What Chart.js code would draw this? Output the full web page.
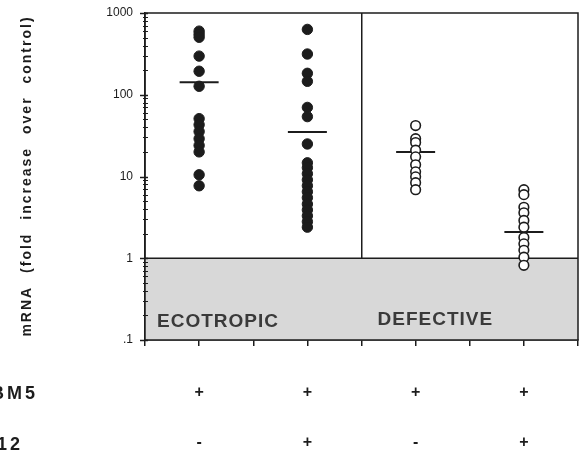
<!DOCTYPE html>
<html lang="en">
<head>
    <meta charset="UTF-8">
    <title>mRNA fold increase</title>
    <script src="https://cdn.jsdelivr.net/npm/chart.js"></script>
    <style>
        body { margin: 0; background: #fff; }
    </style>
</head>
<body>
    <canvas id="chart" width="580" height="457"></canvas>

    <script>
        // group positions on the x axis (ecotropic -, ecotropic +, defective -, defective +)
        const groupX = [1, 3, 5, 7];
        const bm5Row = ['+', '+', '+', '+'];
        const row12 = ['-', '+', '-', '+'];
        const panelNames = ['ECOTROPIC', 'DEFECTIVE'];

        // fold increase values
        const ecoMinus = [600, 550, 505, 297, 194, 127, 51, 43, 35.5, 29, 24, 20, 10.5, 7.7];
        const ecoPlus = [630, 315, 183, 146, 70, 54, 25, 14.7, 12.8, 10.8, 9.1, 7.7, 6.5, 5.5, 4.6, 3.9, 3.3, 2.8, 2.4];
        const defMinus = [42, 29, 26, 21, 17.4, 13.9, 11.4, 9.9, 8.4, 6.9];
        const defPlus = [6.9, 6.0, 4.2, 3.6, 2.9, 2.4, 1.8, 1.5, 1.25, 1.03, 0.82];
        const means = [142, 35, 20, 2.1];

        const yTitle = 'mRNA (fold increase over control)';
        const rowNames = ['BM5', '12'];

        const ink = '#1c1c1c';
        const font = '"Liberation Sans", Arial, sans-serif';

        function toPoints(x, values) {
            return values.map(v => ({ x: x, y: v }));
        }

        const yTicks = [];
        [0.1, 1, 10, 100].forEach(d => {
            for (let i = 1; i < 10; i++) yTicks.push(+(d * i).toPrecision(3));
        });
        yTicks.push(1000);
        const yLabels = { 0.1: '.1', 1: '1', 10: '10', 100: '100', 1000: '1000' };

        // grey band under 1, the frame round the plot and the extra texts
        const framePlugin = {
            id: 'frame',
            beforeDatasetsDraw(chart) {
                const { ctx, chartArea, scales } = chart;
                const y1 = scales.y.getPixelForValue(1);
                const y0 = scales.y.getPixelForValue(0.1);
                ctx.save();
                ctx.fillStyle = '#d8d8d8';
                ctx.fillRect(chartArea.left, y1, chartArea.right - chartArea.left, y0 - y1);
                ctx.strokeStyle = ink;
                ctx.lineWidth = 1.5;
                ctx.beginPath();
                ctx.moveTo(chartArea.left, y1);
                ctx.lineTo(chartArea.right, y1);
                ctx.stroke();
                ctx.strokeRect(chartArea.left, chartArea.top, chartArea.right - chartArea.left, chartArea.bottom - chartArea.top);

                // y tick marks, long for decades, short in between
                scales.y.ticks.forEach(t => {
                    const py = Math.round(scales.y.getPixelForValue(t.value)) + 0.5;
                    const major = yLabels[t.value] !== undefined;
                    ctx.lineWidth = major ? 1.5 : 1;
                    ctx.beginPath();
                    ctx.moveTo(chartArea.left - (major ? 5 : 2), py);
                    ctx.lineTo(chartArea.left + 3, py);
                    ctx.stroke();
                });

                ctx.fillStyle = '#3a3a3a';
                ctx.font = 'bold 19px ' + font;
                ctx.letterSpacing = '1px';
                ctx.textBaseline = 'alphabetic';
                ctx.fillText(panelNames[0], scales.x.getPixelForValue(0) + 12, 327);
                ctx.fillText(panelNames[1], scales.x.getPixelForValue(4) + 16, 325);
                ctx.restore();
            },
            afterDraw(chart) {
                const { ctx, scales } = chart;
                ctx.save();
                ctx.fillStyle = ink;
                // y axis title
                ctx.translate(27, 176);
                ctx.rotate(-Math.PI / 2);
                ctx.font = 'bold 14px ' + font;
                ctx.letterSpacing = '2px';
                ctx.wordSpacing = '7px';
                ctx.textAlign = 'center';
                ctx.textBaseline = 'middle';
                ctx.fillText(yTitle, 0, 0);
                ctx.restore();

                ctx.save();
                ctx.fillStyle = ink;
                // +/- rows under each group
                ctx.font = 'bold 16px ' + font;
                ctx.textAlign = 'center';
                ctx.textBaseline = 'middle';
                groupX.forEach((x, i) => {
                    const px = scales.x.getPixelForValue(x);
                    ctx.fillText(bm5Row[i], px, 393);
                    ctx.fillText(row12[i], px, 443);
                });
                // row names, clipped at the left edge like the original
                ctx.font = 'bold 18px ' + font;
                ctx.textAlign = 'left';
                ctx.letterSpacing = '3px';
                ctx.fillText(rowNames[0], -9, 394);
                ctx.fillText(rowNames[1], -3, 445);
                ctx.restore();
            }
        };

        const ctx = document.getElementById('chart').getContext('2d');
        new Chart(ctx, {
            type: 'scatter',
            data: {
                datasets: [
                    {
                        data: toPoints(groupX[0], ecoMinus),
                        backgroundColor: ink, borderColor: ink, pointRadius: 5.2, borderWidth: 1
                    },
                    {
                        data: toPoints(groupX[1], ecoPlus),
                        backgroundColor: ink, borderColor: ink, pointRadius: 5.2, borderWidth: 1
                    },
                    {
                        data: toPoints(groupX[2], defMinus),
                        backgroundColor: '#fff', borderColor: ink, pointRadius: 4.8, borderWidth: 1.6
                    },
                    {
                        data: toPoints(groupX[3], defPlus),
                        backgroundColor: '#fff', borderColor: ink, pointRadius: 4.8, borderWidth: 1.6
                    },
                    {
                        // mean bars
                        data: groupX.map((x, i) => ({ x: x, y: means[i] })),
                        pointStyle: 'line', pointRadius: 19.5, borderColor: ink, borderWidth: 2
                    }
                ]
            },
            options: {
                responsive: false,
                animation: false,
                layout: { autoPadding: false, padding: { top: 13, right: 2, left: 0, bottom: 0 } },
                plugins: {
                    legend: { display: false },
                    tooltip: { enabled: false }
                },
                scales: {
                    x: {
                        type: 'linear',
                        min: 0,
                        max: 8,
                        afterFit: s => { s.height = 117; },
                        afterBuildTicks: s => { s.ticks = [0, 1, 2, 3, 4, 5, 6, 7, 8].map(v => ({ value: v })); },
                        border: { color: ink, width: 1.5 },
                        grid: {
                            drawOnChartArea: true,
                            color: c => (c.tick && c.tick.value === 4) ? ink : 'rgba(0,0,0,0)',
                            lineWidth: 1.5,
                            tickColor: ink,
                            tickLength: 6,
                            tickWidth: 1.5
                        },
                        ticks: {
                            autoSkip: false,
                            maxRotation: 0,
                            padding: 0,
                            callback: () => ''
                        }
                    },
                    y: {
                        type: 'logarithmic',
                        min: 0.1,
                        max: 1000,
                        afterFit: s => { s.width = 145; },
                        afterBuildTicks: s => { s.ticks = yTicks.map(v => ({ value: v, major: yLabels[v] !== undefined })); },
                        border: { color: ink, width: 1.5 },
                        grid: {
                            drawOnChartArea: false,
                            tickColor: 'rgba(0,0,0,0)',
                            tickLength: 12
                        },
                        ticks: {
                            autoSkip: false,
                            padding: 0,
                            color: ink,
                            font: { family: font, size: 12, lineHeight: 1 },
                            callback: v => yLabels[v] !== undefined ? yLabels[v] : ''
                        }
                    }
                }
            },
            plugins: [framePlugin]
        });
    </script>
</body>
</html>
